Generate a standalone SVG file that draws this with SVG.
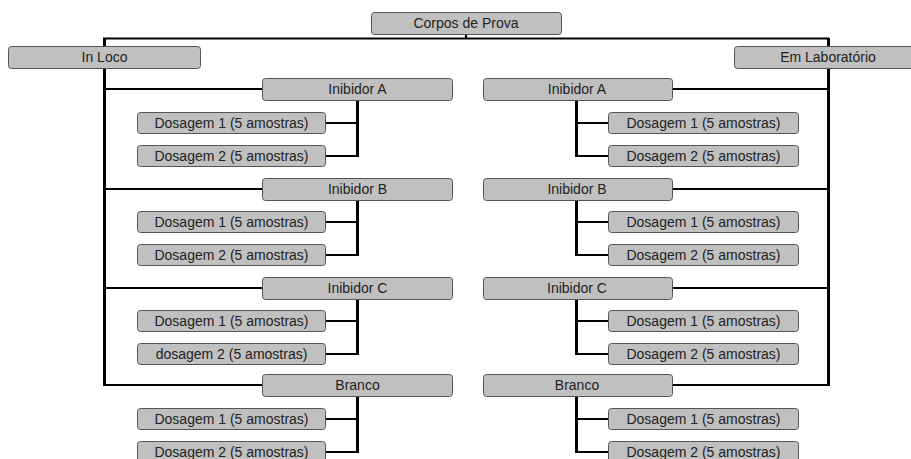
<svg xmlns="http://www.w3.org/2000/svg" width="911" height="459" viewBox="0 0 911 459">
<style>
.b{fill:#c0c0c0;stroke:#555;stroke-width:1}
.t{font-family:"Liberation Sans",Arial,sans-serif;font-size:14px;fill:#222;text-anchor:middle}
.c{fill:none;stroke:#000;stroke-width:2.2}
.k{fill:none;stroke:#000;stroke-width:3}
</style>
<rect width="911" height="459" fill="#fff"/>
<g id="connectors">
<path class="c" d="M466 34V39M103 38.5H829"/>
<path class="k" d="M104.5 38V386M828.5 38V386"/>
<path class="c" d="M104 89H262M104 189H262M104 288H262M104 385H262"/>
<path class="c" d="M672 89H829M672 189H829M672 288H829M672 385H829"/>
<path class="k" d="M357.5 100V157M357.5 200V256M357.5 299V355M357.5 396V453"/>
<path class="c" d="M325 123H358M325 156H358M325 222H358M325 255H358M325 321H358M325 354H358M325 419H358M325 452H358"/>
<path class="k" d="M576.5 100V157M576.5 200V256M576.5 299V355M576.5 396V453"/>
<path class="c" d="M576 123H608M576 156H608M576 222H608M576 255H608M576 321H608M576 354H608M576 419H608M576 452H608"/>
</g>
<g id="corpos"><rect class="b" x="371.5" y="12.5" width="190" height="22" rx="3"/><text class="t" x="466" y="28">Corpos de Prova</text></g>
<g id="inloco"><rect class="b" x="8.5" y="46.5" width="192" height="22" rx="3"/><text class="t" x="104.5" y="62">In Loco</text></g>
<g id="emlab"><rect class="b" x="734.5" y="46.5" width="190" height="22" rx="3"/><text class="t" x="828" y="62">Em Laboratório</text></g>

<g id="l-inibA"><rect class="b" x="262.5" y="78.5" width="190" height="22" rx="3"/><text class="t" x="357.5" y="94">Inibidor A</text></g>
<g id="l-inibA-d1"><rect class="b" x="137.5" y="112.5" width="188" height="21" rx="3"/><text class="t" x="231.5" y="128">Dosagem 1 (5 amostras)</text></g>
<g id="l-inibA-d2"><rect class="b" x="137.5" y="145.5" width="188" height="21" rx="3"/><text class="t" x="231.5" y="161">Dosagem 2 (5 amostras)</text></g>

<g id="l-inibB"><rect class="b" x="262.5" y="178.5" width="190" height="22" rx="3"/><text class="t" x="357.5" y="194">Inibidor B</text></g>
<g id="l-inibB-d1"><rect class="b" x="137.5" y="211.5" width="188" height="21" rx="3"/><text class="t" x="231.5" y="227">Dosagem 1 (5 amostras)</text></g>
<g id="l-inibB-d2"><rect class="b" x="137.5" y="244.5" width="188" height="21" rx="3"/><text class="t" x="231.5" y="260">Dosagem 2 (5 amostras)</text></g>

<g id="l-inibC"><rect class="b" x="262.5" y="277.5" width="190" height="22" rx="3"/><text class="t" x="357.5" y="293">Inibidor C</text></g>
<g id="l-inibC-d1"><rect class="b" x="137.5" y="310.5" width="188" height="21" rx="3"/><text class="t" x="231.5" y="326">Dosagem 1 (5 amostras)</text></g>
<g id="l-inibC-d2"><rect class="b" x="137.5" y="343.5" width="188" height="21" rx="3"/><text class="t" x="231.5" y="359">dosagem 2 (5 amostras)</text></g>

<g id="l-branco"><rect class="b" x="262.5" y="374.5" width="190" height="22" rx="3"/><text class="t" x="357.5" y="390">Branco</text></g>
<g id="l-branco-d1"><rect class="b" x="137.5" y="408.5" width="188" height="21" rx="3"/><text class="t" x="231.5" y="424">Dosagem 1 (5 amostras)</text></g>
<g id="l-branco-d2"><rect class="b" x="137.5" y="441.5" width="188" height="21" rx="3"/><text class="t" x="231.5" y="457">Dosagem 2 (5 amostras)</text></g>

<g id="r-inibA"><rect class="b" x="483.5" y="78.5" width="189" height="22" rx="3"/><text class="t" x="577" y="94">Inibidor A</text></g>
<g id="r-inibA-d1"><rect class="b" x="608.5" y="112.5" width="190" height="21" rx="3"/><text class="t" x="703.5" y="128">Dosagem 1 (5 amostras)</text></g>
<g id="r-inibA-d2"><rect class="b" x="608.5" y="145.5" width="190" height="21" rx="3"/><text class="t" x="703.5" y="161">Dosagem 2 (5 amostras)</text></g>

<g id="r-inibB"><rect class="b" x="483.5" y="178.5" width="189" height="22" rx="3"/><text class="t" x="577" y="194">Inibidor B</text></g>
<g id="r-inibB-d1"><rect class="b" x="608.5" y="211.5" width="190" height="21" rx="3"/><text class="t" x="703.5" y="227">Dosagem 1 (5 amostras)</text></g>
<g id="r-inibB-d2"><rect class="b" x="608.5" y="244.5" width="190" height="21" rx="3"/><text class="t" x="703.5" y="260">Dosagem 2 (5 amostras)</text></g>

<g id="r-inibC"><rect class="b" x="483.5" y="277.5" width="189" height="22" rx="3"/><text class="t" x="577" y="293">Inibidor C</text></g>
<g id="r-inibC-d1"><rect class="b" x="608.5" y="310.5" width="190" height="21" rx="3"/><text class="t" x="703.5" y="326">Dosagem 1 (5 amostras)</text></g>
<g id="r-inibC-d2"><rect class="b" x="608.5" y="343.5" width="190" height="21" rx="3"/><text class="t" x="703.5" y="359">Dosagem 2 (5 amostras)</text></g>

<g id="r-branco"><rect class="b" x="483.5" y="374.5" width="189" height="22" rx="3"/><text class="t" x="577" y="390">Branco</text></g>
<g id="r-branco-d1"><rect class="b" x="608.5" y="408.5" width="190" height="21" rx="3"/><text class="t" x="703.5" y="424">Dosagem 1 (5 amostras)</text></g>
<g id="r-branco-d2"><rect class="b" x="608.5" y="441.5" width="190" height="21" rx="3"/><text class="t" x="703.5" y="457">Dosagem 2 (5 amostras)</text></g>
</svg>
